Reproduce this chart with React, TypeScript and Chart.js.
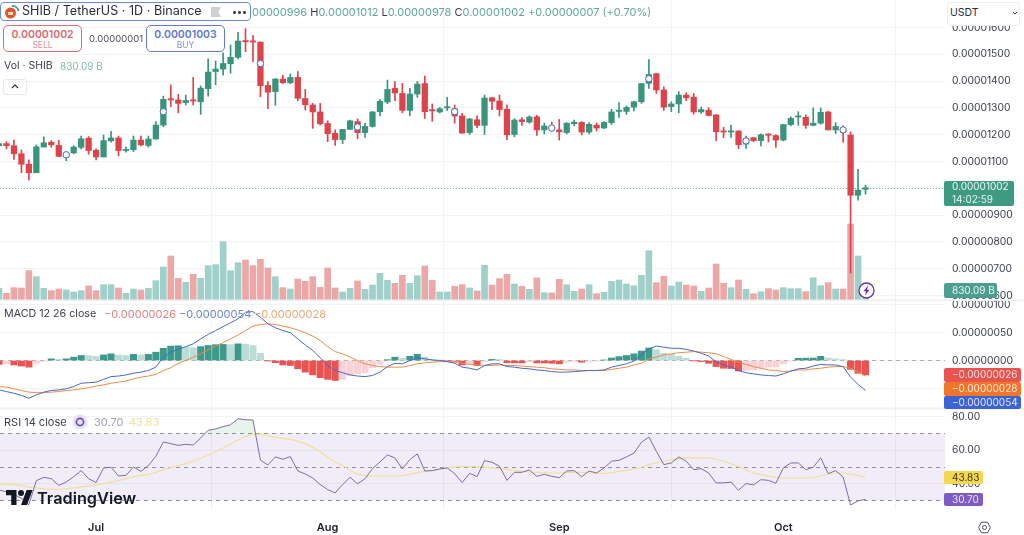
import React, { useEffect, useRef } from "react";
import { Chart, registerables } from "chart.js";

Chart.register(...registerables);

const FONT = "Inter, 'Noto Sans', sans-serif";
const TEXT = "#3a3e4a";
const GREEN = "#38957c";
const RED = "#de424a";

// prices are in units of 0.00000001, one entry per day from 18 Jun
const opens = [
  1159, 1167, 1159, 1129, 1090, 1058, 1154, 1172, 1160, 1119,
  1132, 1153, 1187, 1142, 1117, 1177, 1188, 1141, 1144, 1180,
  1160, 1184, 1236, 1332, 1330, 1320, 1330, 1323, 1372, 1436,
  1445, 1465, 1489, 1551, 1550, 1546, 1384, 1361, 1408, 1394,
  1414, 1335, 1311, 1285, 1242, 1205, 1182, 1220, 1249, 1208,
  1231, 1286, 1322, 1373, 1354, 1291, 1352, 1391, 1291, 1285,
  1300, 1297, 1270, 1208, 1256, 1235, 1338, 1326, 1295, 1201,
  1256, 1247, 1267, 1218, 1231, 1218, 1208, 1241, 1246, 1210,
  1236, 1225, 1245, 1287, 1287, 1303, 1323, 1392, 1428, 1367,
  1305, 1315, 1348, 1340, 1285, 1291, 1274, 1214, 1210, 1214,
  1165, 1189, 1178, 1200, 1197, 1180, 1238, 1266, 1265, 1235,
  1243, 1285, 1218, 1224, 1199, 974, 996,
];
const closes = [
  1167, 1159, 1129, 1090, 1058, 1155, 1170, 1162, 1119, 1131,
  1154, 1185, 1141, 1117, 1178, 1188, 1141, 1144, 1180, 1162,
  1184, 1236, 1332, 1330, 1317, 1328, 1326, 1374, 1434, 1445,
  1466, 1489, 1550, 1547, 1546, 1383, 1359, 1408, 1394, 1414,
  1336, 1312, 1285, 1241, 1204, 1182, 1220, 1252, 1208, 1231,
  1285, 1325, 1369, 1356, 1291, 1352, 1389, 1286, 1289, 1297,
  1302, 1270, 1206, 1259, 1235, 1337, 1325, 1294, 1200, 1255,
  1249, 1266, 1218, 1233, 1220, 1211, 1243, 1247, 1210, 1239,
  1225, 1246, 1285, 1291, 1302, 1323, 1391, 1425, 1367, 1303,
  1315, 1348, 1338, 1285, 1294, 1272, 1211, 1210, 1214, 1163,
  1185, 1178, 1200, 1198, 1180, 1238, 1261, 1269, 1235, 1243,
  1284, 1218, 1231, 1208, 974, 993, 1002,
];
const highs = [
  1174, 1174, 1180, 1143, 1106, 1162, 1192, 1178, 1179, 1137,
  1159, 1195, 1193, 1147, 1199, 1213, 1195, 1155, 1195, 1195,
  1195, 1249, 1344, 1386, 1351, 1348, 1414, 1382, 1483, 1475,
  1506, 1535, 1582, 1596, 1570, 1546, 1398, 1410, 1422, 1427,
  1436, 1369, 1317, 1317, 1252, 1218, 1220, 1255, 1259, 1243,
  1287, 1332, 1404, 1398, 1392, 1373, 1399, 1419, 1315, 1302,
  1340, 1311, 1280, 1261, 1271, 1348, 1340, 1348, 1311, 1260,
  1264, 1271, 1272, 1243, 1247, 1257, 1245, 1255, 1249, 1245,
  1244, 1249, 1295, 1320, 1308, 1326, 1392, 1481, 1429, 1379,
  1323, 1361, 1357, 1354, 1303, 1301, 1275, 1228, 1236, 1215,
  1195, 1190, 1203, 1204, 1200, 1239, 1267, 1286, 1274, 1300,
  1300, 1287, 1245, 1233, 1211, 1071, 1012,
];
const lows = [
  1149, 1147, 1108, 1058, 1031, 1058, 1154, 1153, 1118, 1103,
  1129, 1147, 1127, 1106, 1117, 1172, 1121, 1135, 1137, 1158,
  1154, 1183, 1230, 1305, 1282, 1311, 1311, 1276, 1344, 1387,
  1422, 1430, 1483, 1510, 1473, 1342, 1297, 1310, 1392, 1390,
  1327, 1292, 1224, 1236, 1174, 1160, 1167, 1220, 1185, 1190,
  1228, 1270, 1316, 1327, 1282, 1271, 1340, 1261, 1250, 1281,
  1290, 1243, 1205, 1201, 1226, 1201, 1294, 1270, 1182, 1192,
  1235, 1243, 1197, 1203, 1213, 1180, 1203, 1233, 1199, 1203,
  1214, 1223, 1238, 1265, 1276, 1289, 1317, 1373, 1354, 1291,
  1286, 1282, 1327, 1277, 1280, 1270, 1178, 1189, 1190, 1148,
  1149, 1174, 1158, 1173, 1153, 1177, 1233, 1235, 1224, 1233,
  1239, 1218, 1204, 1172, 684, 956, 978,
];
// billions of SHIB
const volumes = [
  1036, 592, 1095, 1066, 2605, 2072, 1036, 829, 977, 888,
  710, 829, 1243, 829, 1362, 1362, 1066, 592, 977, 888,
  1036, 1717, 2930, 3907, 1924, 1569, 2279, 1924, 3049, 3138,
  5180, 2605, 3315, 3552, 3049, 3611, 2842, 2072, 1095, 977,
  1865, 1658, 2072, 1125, 2842, 1066, 710, 1036, 1687, 947,
  1332, 2368, 1746, 1480, 2190, 1480, 2161, 3019, 1746, 710,
  710, 1214, 1362, 1066, 799, 3078, 1332, 1894, 2279, 1421,
  1214, 947, 1954, 651, 622, 1835, 1362, 770, 977, 1362,
  562, 681, 1658, 1776, 1421, 1273, 2190, 4381, 1539, 2102,
  1243, 1598, 1332, 1243, 770, 1066, 3197, 1480, 1095, 1776,
  947, 562, 740, 1006, 888, 1095, 1006, 1006, 740, 1983,
  1273, 1539, 977, 977, 6749, 3907, 830.09,
];
const histogram = [
  -7, -6, -8, -10, -12, -5, -1.5, 3, 2, 3,
  6, 9, 8.5, 7.5, 10, 12, 10, 9, 11, 10,
  11, 15, 22, 26, 26.5, 24, 23, 25, 27, 28.5,
  29, 28.5, 30, 29.5, 27, 13, -0.3, -4, -8, -9,
  -15, -21, -26, -31, -34, -36, -34, -27, -24, -22,
  -13, -7, 1.5, 6, 4, 7.5, 11, 6, 1.5, 0.3,
  -0.5, -1.5, -8, -6, -9, -2, 2, 1.8, -4, -4.2,
  -4.4, -1.5, -4.5, -4.6, -5, -6, -3, -2, -3, -1.5,
  -0.5, 1, 4.5, 7, 9, 12, 17, 22.5, 19.5, 13,
  11, 8, 4, -0.3, -2, -5, -11, -14, -14.5, -19,
  -18, -17, -14, -12, -11.5, -6, -1, 4, 4.2, 4.4,
  7.5, 4.5, 3, 1.5, -16, -23, -26,
];
const macdLine = [
  -53, -56, -59, -63, -68, -62, -57, -54, -53, -51,
  -47, -41, -40, -39, -34, -29, -28, -26, -23, -21,
  -18, -12, 6, 15, 20, 25, 30, 39, 47, 54,
  61, 68, 75, 87, 88, 78, 66, 59, 54, 50,
  39, 28, 18, 5, -9, -18, -22, -26, -28, -29,
  -27, -21, -11, -5, -6, 0, 5, 3, 1, 0,
  -2, -5, -12, -14, -17, -9, -6, -6, -11, -12,
  -14, -15, -17, -18, -20, -21, -21, -20, -19, -18,
  -18, -17, -12, -9, -6, -1, 10, 21, 26, 24,
  22, 22, 20, 17, 13, 8, -2, -8, -12, -18,
  -22, -24, -26, -27, -28, -24, -19, -15, -14, -10,
  -7, -8, -8, -11, -30, -43, -54,
];
const signalLine = [
  -47, -48, -51, -54, -57, -58, -58, -57, -56, -54,
  -53, -51, -49, -46, -44, -41, -39, -37, -33, -30,
  -28, -25, -18, -13, -5, 0, 6, 12, 19, 26,
  32, 39, 46, 54, 62, 65, 66, 65, 62, 59,
  55, 50, 44, 36, 25, 16, 12, 6, 0, -6,
  -9, -11, -12, -12, -12, -9, -6, -4, -3, -2,
  -2, -3, -5, -7, -8, -9, -9, -8, -9, -9,
  -10, -11, -12, -13, -15, -16, -17, -17, -18, -18,
  -18, -18, -16, -14, -12, -8, -5, 3, 6, 10,
  12, 14, 15, 16, 15, 14, 12, 7, 2, -3,
  -7, -11, -14, -17, -18, -20, -19, -17, -17, -15,
  -14, -12, -11, -11, -14, -20, -28,
];
const rsi = [
  36.3, 35.1, 33.5, 31.3, 27.5, 41.8, 43.8, 43, 39, 41,
  44.2, 47.8, 43, 40.7, 49.4, 49.8, 44.6, 45, 50, 47.4,
  50.8, 56.4, 64.9, 63.9, 62.9, 63.5, 63.1, 67.3, 71.9, 72.7,
  74.1, 75.2, 78.8, 78.2, 78, 54, 51.2, 56, 54.6, 56.2,
  47.6, 45.8, 43.4, 39.5, 36.5, 34.5, 39.5, 43.8, 39.9, 43,
  49, 53, 57.2, 55.4, 48.8, 54.4, 57.8, 47.6, 47.8, 48.8,
  49.4, 46, 40.7, 46.2, 44.2, 53.8, 52.8, 50.4, 42, 46.8,
  46.8, 48.2, 44.4, 45.6, 44.4, 43.6, 47.6, 47.8, 44.2, 47.6,
  46.4, 49.4, 53.4, 54, 56, 58.3, 64.7, 67.9, 59.3, 51.4,
  52.4, 56, 53.4, 48.4, 49, 46.4, 40.5, 40.5, 40.9, 36.1,
  40.1, 39.3, 42.4, 42, 40.3, 49.4, 52.4, 52.4, 48.4, 49.8,
  55.4, 46, 47.8, 44, 27.3, 29.7, 30.7,
];
const rsiAverage = [
  39.7, 39.7, 39.5, 38.9, 37.9, 37.5, 36.9, 36.7, 36.7, 37.1,
  37.5, 38.1, 38.7, 39.3, 40.1, 40.9, 41.8, 43, 44.2, 45,
  45.6, 46.6, 48.4, 49.6, 50.8, 52, 53.4, 55.2, 57, 59.1,
  61.3, 63.7, 66.1, 68.3, 69.5, 69.5, 68.7, 67.7, 67.1, 66.5,
  65.3, 63.9, 61.7, 59.1, 56, 53, 50.8, 48, 45.6, 44.8,
  44.6, 44.6, 44.6, 44.6, 44.8, 45.6, 46.6, 47.4, 47.8, 48.8,
  49.4, 50, 50.2, 50.2, 50.2, 50, 49.4, 49, 48.4, 48,
  47.4, 47, 46.8, 46.6, 46.4, 46.4, 46.6, 46.8, 46.8, 46.6,
  46.2, 46, 46.6, 47.4, 48, 48.8, 49.8, 51.4, 52.4, 53.4,
  54.2, 55, 55.4, 55.4, 55.4, 55.4, 54.6, 53.4, 51.8, 50.2,
  48.2, 46.4, 45.4, 44.4, 43.8, 43.4, 43.4, 43.4, 43.4, 43.8,
  44.6, 45.8, 46.4, 46.4, 45.8, 44.8, 43.83,
];
// the small blue event circles: day index and price
const eventDays = [9, 22, 35, 48, 61, 74, 87, 100, 113];
const eventPrices = [1125, 1286, 1466, 1229, 1286, 1225, 1409, 1177, 1218];
// day index of each month start
const monthDays = [13, 44, 75, 105];
const monthNames = ["Jul", "Aug", "Sep", "Oct"];

const days = opens.map((_, i) => i);
const points = (values: number[]) => values.map((y, x) => ({ x, y }));
const candleColors = opens.map((o, i) => (closes[i] >= o ? GREEN : RED));
const volumeColors = opens.map((o, i) => (closes[i] >= o ? "#9fd0ca" : "#eba8a6"));
const histColors = histogram.map((h, i) => {
  const prev = i > 0 ? histogram[i - 1] : h + 1;
  if (h >= 0) return h > prev ? "#3d9a8b" : "#bcdcd8";
  return h < prev ? "#ea5350" : "#f9d1d6";
});

const label = (v: number) => (v * 1e-8).toFixed(8);

// the pane axes sit edge to edge, so drop the room Chart.js leaves for labels
const fitPane = (axis: any) => {
  axis.width = 79;
  axis.paddingTop = 0;
  axis.paddingBottom = 0;
};

const panes = {
  id: "panes",
  beforeDatasetsDraw(chart: any) {
    const { ctx, chartArea, scales } = chart;
    const { left, right } = chartArea;
    const hline = (y: number, color: string, dash: number[]) => {
      ctx.save();
      ctx.strokeStyle = color;
      ctx.lineWidth = 1;
      ctx.setLineDash(dash);
      ctx.beginPath();
      ctx.moveTo(left, Math.round(y) + 0.5);
      ctx.lineTo(right, Math.round(y) + 0.5);
      ctx.stroke();
      ctx.restore();
    };
    const r = scales.rsi;
    ctx.save();
    ctx.fillStyle = "rgba(126,87,194,0.11)";
    ctx.fillRect(left, r.getPixelForValue(70), right - left, r.getPixelForValue(30) - r.getPixelForValue(70));
    ctx.restore();
    [70, 50, 30].forEach((v) => hline(r.getPixelForValue(v), "#93919c", [4, 4]));
    hline(scales.macd.getPixelForValue(0), "#a9abb3", [4, 4]);
    hline(scales.price.getPixelForValue(closes[closes.length - 1]), "#6bb0a0", [1, 2]);
  },
  afterDraw(chart: any) {
    const { ctx, scales, width } = chart;
    ctx.save();
    ctx.fillStyle = "#eef0f3";
    ctx.fillRect(0, scales.price.bottom - 0.5, width, 1.5);
    ctx.fillRect(0, scales.macd.bottom - 0.5, width, 2);
    ctx.textBaseline = "middle";
    ctx.font = `10px ${FONT}`;
    const tag = (y: number, h: number, w: number, bg: string, fg: string, lines: string[]) => {
      ctx.fillStyle = bg;
      ctx.beginPath();
      ctx.roundRect(944, y, w, h, 2);
      ctx.fill();
      ctx.fillStyle = fg;
      lines.forEach((t, i) => ctx.fillText(t, 952, y + (h / lines.length) * (i + 0.5)));
    };
    tag(181, 25, 70, "#3f9a84", "#e9f5f1", [label(closes[116]), "14:02:59"]);
    tag(283, 15, 53, "#4c9f90", "#e9f5f1", [`${volumes[116].toFixed(2)} B`]);
    tag(368, 14, 77, "#e9534f", "#fbe3e1", [`−${label(-histogram[116])}`]);
    tag(382, 14, 77, "#f0762c", "#fde8d8", [`−${label(-signalLine[116])}`]);
    tag(396, 13, 77, "#3d62d6", "#e1e8fb", [`−${label(-macdLine[116])}`]);
    tag(471, 13, 39, "#f5d64f", "#3a3a20", [rsiAverage[116].toFixed(2)]);
    tag(493, 13, 39, "#7e5bc2", "#ece5f9", [rsi[116].toFixed(2)]);
    ctx.restore();
  },
};

const common = { parsing: { xAxisKey: "x", yAxisKey: "y" } };

function Txt({ x, y, size = 11, color = TEXT, weight = 400, children }: any) {
  return (
    <span
      style={{
        position: "absolute",
        left: x,
        top: y,
        fontSize: size,
        lineHeight: 1,
        color,
        fontWeight: weight,
        whiteSpace: "nowrap",
      }}
    >
      {children}
    </span>
  );
}

function Chip({ x, color, price, side }: any) {
  return (
    <div
      style={{
        position: "absolute",
        left: x,
        top: 25,
        width: 79,
        height: 27,
        boxSizing: "border-box",
        border: `1px solid ${color}`,
        borderRadius: 5,
        background: "#fff",
        textAlign: "center",
        color,
      }}
    >
      <div style={{ fontSize: 10.5, fontWeight: 600, lineHeight: "11px", marginTop: 3 }}>{price}</div>
      <div style={{ fontSize: 8.5, lineHeight: "10px", opacity: 0.8 }}>{side}</div>
    </div>
  );
}

export default function App() {
  const canvasRef = useRef<HTMLCanvasElement | null>(null);

  useEffect(() => {
    if (!canvasRef.current) return;
    const chart = new Chart(canvasRef.current, {
      type: "bar",
      plugins: [panes],
      data: {
        datasets: [
          {
            ...common,
            label: "Volume",
            yAxisID: "volume",
            data: points(volumes),
            backgroundColor: volumeColors,
            barThickness: 6,
            grouped: false,
            order: 9,
          },
          {
            ...common,
            label: "Wick",
            yAxisID: "price",
            data: days.map((x) => ({ x, y: [lows[x], highs[x]] })),
            backgroundColor: candleColors,
            barThickness: 1,
            grouped: false,
            order: 5,
          },
          {
            ...common,
            label: "Candle",
            yAxisID: "price",
            data: days.map((x) => ({ x, y: [opens[x], closes[x]] })),
            backgroundColor: candleColors,
            barThickness: 5.6,
            minBarLength: 1.2,
            grouped: false,
            order: 4,
          },
          {
            type: "line",
            label: "Events",
            yAxisID: "price",
            data: eventDays.map((x, i) => ({ x, y: eventPrices[i] })),
            showLine: false,
            pointRadius: 3.2,
            pointBorderWidth: 1,
            pointBorderColor: "#4466cc",
            pointBackgroundColor: "#ffffff",
            order: 1,
          },
          {
            ...common,
            label: "Histogram",
            yAxisID: "macd",
            data: points(histogram),
            backgroundColor: histColors,
            barThickness: 6.4,
            grouped: false,
            order: 8,
          },
          {
            type: "line",
            label: "MACD",
            yAxisID: "macd",
            data: points(macdLine),
            borderColor: "#4668cc",
            borderWidth: 1,
            pointRadius: 0,
            tension: 0,
            order: 2,
          },
          {
            type: "line",
            label: "Signal",
            yAxisID: "macd",
            data: points(signalLine),
            borderColor: "#ee8c45",
            borderWidth: 1,
            pointRadius: 0,
            tension: 0,
            order: 3,
          },
          {
            type: "line",
            label: "RSI",
            yAxisID: "rsi",
            data: points(rsi),
            borderColor: "#7d6ca8",
            borderWidth: 1,
            pointRadius: 0,
            tension: 0,
            fill: { target: { value: 70 }, above: "rgba(76,175,110,0.14)", below: "rgba(0,0,0,0)" },
            order: 2,
          },
          {
            type: "line",
            label: "RSI average",
            yAxisID: "rsi",
            data: points(rsiAverage),
            borderColor: "#f1e09b",
            borderWidth: 1.2,
            pointRadius: 0,
            tension: 0,
            order: 3,
          },
        ],
      } as any,
      options: {
        responsive: false,
        animation: false,
        layout: { padding: 0, autoPadding: false },
        plugins: { legend: { display: false }, tooltip: { enabled: false } },
        scales: {
          x: {
            type: "linear",
            min: 0.134,
            max: 126.64,
            offset: false,
            afterBuildTicks: (axis: any) => {
              axis.ticks = monthDays.map((value) => ({ value }));
            },
            afterFit: (axis: any) => {
              axis.height = 25;
              axis.paddingLeft = 0;
              axis.paddingRight = 0;
            },
            border: { display: false },
            grid: { color: "#f2f3f6", drawTicks: false },
            ticks: {
              autoSkip: false,
              maxRotation: 0,
              padding: 11,
              color: "#1c2030",
              font: { family: FONT, size: 11, weight: 600 },
              callback: (v: any) => monthNames[monthDays.indexOf(v)],
            },
          },
          price: {
            type: "linear",
            position: "right",
            stack: "panes",
            stackWeight: 300,
            weight: 1,
            min: 583,
            max: 1703,
            afterBuildTicks: (axis: any) => {
              axis.ticks = axis.ticks.filter((t: any) => t.value <= 1600);
            },
            afterFit: fitPane,
            border: { display: false },
            grid: { color: "#f2f3f6", drawTicks: false },
            ticks: {
              stepSize: 100,
              includeBounds: false,
              padding: 7,
              color: TEXT,
              font: { family: FONT, size: 10.3 },
              callback: (v: any) => label(v),
            },
          },
          macd: {
            type: "linear",
            position: "right",
            stack: "panes",
            stackWeight: 108,
            weight: 2,
            min: -85.6,
            max: 109,
            afterFit: fitPane,
            border: { display: false },
            grid: { color: "#f2f3f6", drawTicks: false },
            ticks: {
              stepSize: 50,
              includeBounds: false,
              padding: 7,
              color: TEXT,
              font: { family: FONT, size: 10.3 },
              callback: (v: any) => label(v),
            },
          },
          rsi: {
            type: "linear",
            position: "right",
            stack: "panes",
            stackWeight: 102,
            weight: 3,
            min: 24.3,
            max: 85.2,
            afterFit: fitPane,
            border: { display: false },
            grid: { color: "#f2f3f6", drawTicks: false },
            ticks: {
              stepSize: 20,
              includeBounds: false,
              padding: 7,
              color: TEXT,
              font: { family: FONT, size: 10.3 },
              callback: (v: any) => Number(v).toFixed(2),
            },
          },
          // no axis of its own: it overlays the bottom of the price pane
          volume: {
            type: "linear",
            position: "left",
            display: false,
            min: -18648,
            max: 26640,
          },
        },
      } as any,
    });
    return () => chart.destroy();
  }, []);

  return (
    <div
      style={{
        position: "fixed",
        left: 0,
        top: 0,
        width: 1024,
        height: 535,
        background: "#fff",
        overflow: "hidden",
        fontFamily: FONT,
      }}
    >
      <canvas ref={canvasRef} width={1024} height={535} style={{ display: "block" }} />

      <div
        style={{
          position: "absolute",
          left: 0,
          top: 2,
          width: 251,
          height: 19,
          boxSizing: "border-box",
          border: "1px solid #6b8bd8",
          borderRadius: 4,
          background: "#fff",
        }}
      />
      <svg style={{ position: "absolute", left: 3, top: 3 }} width={17} height={17} viewBox="0 0 17 17">
        <circle cx={7.5} cy={10} r={5.5} fill="#e2552f" />
        <rect x={5} y={9} width={5} height={3} fill="#fbe0c0" />
        <path d="M9 3 A6 6 0 0 1 15.5 8" fill="none" stroke="#4e9f97" strokeWidth={2} />
      </svg>
      <Txt x={22} y={5} size={12.6} color="#2a2e39">
        SHIB / TetherUS · 1D · Binance
      </Txt>
      <svg style={{ position: "absolute", left: 211, top: 7 }} width={11} height={10} viewBox="0 0 11 10">
        <path d="M0 0H10L7.5 5L10 10H0Z" fill="#cfd1d4" />
      </svg>
      <Txt x={232} y={6} size={10} color="#3a3e4a" weight={600}>
        •••
      </Txt>

      <Txt x={252} y={6.5} size={11} color="#5fa897">
        00000996 <span style={{ color: TEXT }}>H</span>0.00001012 <span style={{ color: TEXT }}>L</span>0.00000978{" "}
        <span style={{ color: TEXT }}>C</span>0.00001002 +0.00000007 (+0.70%)
      </Txt>

      <div
        style={{
          position: "absolute",
          left: 947,
          top: 2,
          width: 73,
          height: 24,
          boxSizing: "border-box",
          border: "1px solid #eceef1",
          borderRadius: 3,
          background: "#fff",
        }}
      />
      <Txt x={950} y={8} size={10.5} color="#2a2e39">
        USDT
      </Txt>
      <svg style={{ position: "absolute", left: 1012, top: 11 }} width={6} height={4} viewBox="0 0 6 4">
        <path d="M0.8 0.8L3 3L5.2 0.8" fill="none" stroke="#3a3e4a" strokeWidth={1} />
      </svg>

      <Chip x={3} color="#dc6a72" price="0.00001002" side="SELL" />
      <Txt x={89} y={34} size={9.5} color="#4a4e59">
        0.00000001
      </Txt>
      <Chip x={146} color="#6279d1" price="0.00001003" side="BUY" />

      <Txt x={4} y={60.5} size={10.5}>
        Vol · SHIB
      </Txt>
      <Txt x={60} y={60.5} size={10} color="#7fbcb0">
        830.09 B
      </Txt>
      <div
        style={{
          position: "absolute",
          left: 3,
          top: 79,
          width: 24,
          height: 16,
          boxSizing: "border-box",
          border: "1px solid #e6e8ec",
          borderRadius: 3,
          background: "#fff",
        }}
      />
      <svg style={{ position: "absolute", left: 11, top: 84 }} width={8} height={5} viewBox="0 0 8 5">
        <path d="M1 4L4 1L7 4" fill="none" stroke="#2a2e39" strokeWidth={1.1} />
      </svg>

      <Txt x={4} y={308.5} size={10.7}>
        MACD 12 26 close
      </Txt>
      <Txt x={104} y={308.5} size={11} color="#dd8585">
        −0.00000026
      </Txt>
      <Txt x={179} y={308.5} size={11} color="#6e88d8">
        −0.00000054
      </Txt>
      <Txt x={254} y={308.5} size={11} color="#eca776">
        −0.00000028
      </Txt>

      <Txt x={4} y={416.5} size={11}>
        RSI 14 close
      </Txt>
      <svg style={{ position: "absolute", left: 72, top: 414 }} width={16} height={16} viewBox="0 0 16 16">
        <circle cx={8} cy={8} r={7.5} fill="#e8e2f6" />
        <circle cx={8} cy={8} r={3.6} fill="none" stroke="#6b46c1" strokeWidth={1.6} />
      </svg>
      <Txt x={94} y={416.5} size={11} color="#a79bc3">
        30.70
      </Txt>
      <Txt x={129} y={416.5} size={11} color="#eee29c">
        43.83
      </Txt>

      <svg style={{ position: "absolute", left: 6, top: 490 }} width={27} height={15} viewBox="0 0 36 20">
        <path d="M14 20H7V7H0V0h14v20zM28 20h-8l7.5-20h8L28 20z" fill="#131722" />
        <circle cx={20} cy={4} r={4} fill="#131722" />
      </svg>
      <Txt x={37} y={489.5} size={16.3} color="#131722" weight={600}>
        TradingView
      </Txt>

      <svg style={{ position: "absolute", left: 858, top: 282 }} width={17} height={17} viewBox="0 0 17 17">
        <circle cx={8.5} cy={8.5} r={7.5} fill="#fff" stroke="#6b2fa0" strokeWidth={1.3} />
        <path d="M10 3.5L5.5 9.2H8L7 13.5L11.5 7.8H9Z" fill="#6b2fa0" />
      </svg>

      <svg style={{ position: "absolute", left: 978, top: 521 }} width={13} height={13} viewBox="0 0 13 13">
        <path d="M3.5 1.2H9.5L12.4 6.5L9.5 11.8H3.5L0.6 6.5Z" fill="none" stroke="#4a4e59" strokeWidth={1} />
        <circle cx={6.5} cy={6.5} r={2} fill="none" stroke="#4a4e59" strokeWidth={1} />
      </svg>
    </div>
  );
}
